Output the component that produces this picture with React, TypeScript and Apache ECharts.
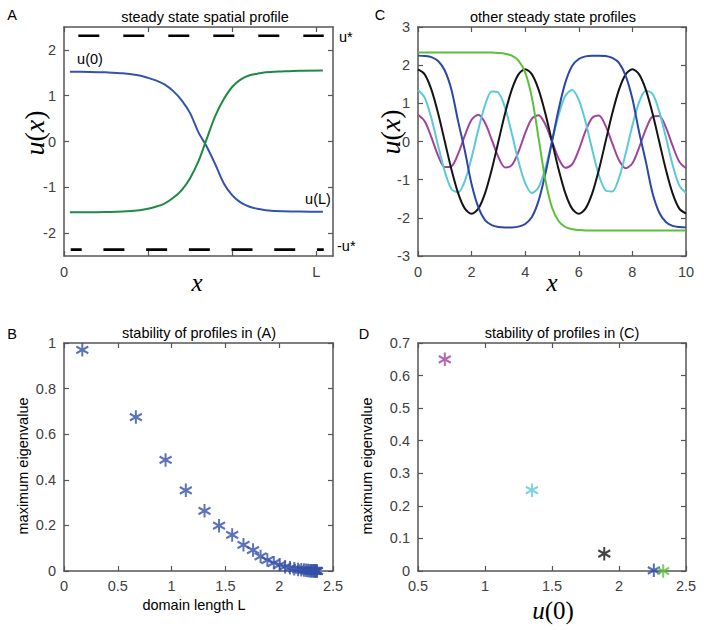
import React, { useEffect, useRef } from "react";
import * as echarts from "echarts";

// ---------- Panel A: steady state spatial profile ----------
const profileX = [0.07, 0.3, 0.5, 0.7, 0.9, 1.0, 1.1, 1.2, 1.3, 1.4, 1.5, 1.6, 1.7, 1.8, 1.9, 2.0, 2.1, 2.2, 2.3, 2.4, 2.6, 2.8, 3.08];
const profileFromU0 = [1.525, 1.52, 1.51, 1.49, 1.44, 1.39, 1.33, 1.24, 1.1, 0.9, 0.62, 0.2, -0.12, -0.5, -0.91, -1.17, -1.33, -1.42, -1.47, -1.5, -1.525, -1.53, -1.535];
const profileFromUL = [-1.545, -1.545, -1.54, -1.53, -1.5, -1.47, -1.42, -1.35, -1.23, -1.06, -0.8, -0.43, 0.07, 0.56, 0.92, 1.19, 1.35, 1.44, 1.48, 1.51, 1.53, 1.545, 1.55];
const uStarTopX = [0.17, 3.09];
const uStarBottomX = [0.08, 3.09];
const uStarPlus = 2.31;
const uStarMinus = -2.36;
const aTicksX = [0, 1, 2, 3];
const aLabelsX = [0, 3];
const aTicksY = [-2, -1, 0, 1, 2];

// ---------- Panel C: other steady state profiles ----------
const otherX = [0, 0.25, 0.5, 0.75, 1, 1.25, 1.5, 1.75, 2, 2.25, 2.5, 2.75, 3, 3.25, 3.5, 3.75, 4, 4.25, 4.5, 4.75, 5, 5.25, 5.5, 5.75, 6, 6.25, 6.5, 6.75, 7, 7.25, 7.5, 7.75, 8, 8.25, 8.5, 8.75, 9, 9.25, 9.5, 9.75, 10];
const otherGreen = [2.33, 2.33, 2.33, 2.33, 2.33, 2.33, 2.33, 2.33, 2.33, 2.33, 2.33, 2.33, 2.32, 2.3, 2.25, 2.12, 1.81, 1.15, 0.09, -1.0, -1.73, -2.09, -2.24, -2.3, -2.32, -2.33, -2.33, -2.33, -2.33, -2.33, -2.33, -2.33, -2.33, -2.33, -2.33, -2.33, -2.33, -2.33, -2.33, -2.33, -2.33];
const otherBlue = [2.25, 2.24, 2.21, 2.11, 1.86, 1.35, 0.52, -0.25, -1.12, -1.72, -2.06, -2.19, -2.24, -2.25, -2.25, -2.23, -2.16, -1.98, -1.55, -0.85, 0, 0.85, 1.55, 1.98, 2.16, 2.23, 2.25, 2.25, 2.24, 2.19, 2.06, 1.72, 1.12, 0.25, -0.52, -1.35, -1.86, -2.11, -2.21, -2.24, -2.25];
const otherBlack = [1.89, 1.76, 1.36, 0.74, 0, -0.74, -1.36, -1.76, -1.89, -1.76, -1.36, -0.74, 0, 0.74, 1.36, 1.76, 1.89, 1.76, 1.36, 0.74, 0, -0.74, -1.36, -1.76, -1.89, -1.76, -1.36, -0.74, 0, 0.74, 1.36, 1.76, 1.89, 1.76, 1.36, 0.74, 0, -0.74, -1.36, -1.76, -1.89];
const otherCyan = [1.35, 1.15, 0.61, -0.11, -0.79, -1.25, -1.33, -1.03, -0.42, 0.31, 0.95, 1.31, 1.28, 0.88, 0.21, -0.52, -1.09, -1.35, -1.2, -0.7, 0, 0.7, 1.2, 1.35, 1.09, 0.52, -0.21, -0.88, -1.28, -1.31, -0.95, -0.31, 0.42, 1.03, 1.33, 1.25, 0.79, 0.11, -0.61, -1.15, -1.35];
const otherPurple = [0.7, 0.53, 0.11, -0.37, -0.67, -0.65, -0.32, 0.16, 0.57, 0.7, 0.49, 0.05, -0.41, -0.68, -0.62, -0.27, 0.22, 0.6, 0.69, 0.45, 0, -0.45, -0.69, -0.6, -0.22, 0.27, 0.62, 0.68, 0.41, -0.05, -0.49, -0.7, -0.57, -0.16, 0.32, 0.65, 0.67, 0.37, -0.11, -0.53, -0.7];
const cTicksX = [0, 2, 4, 6, 8, 10];
const cTicksY = [-3, -2, -1, 0, 1, 2, 3];

// ---------- Panel B: stability of profiles in (A) ----------
const domainLength = [0.17, 0.668, 0.944, 1.132, 1.306, 1.441, 1.563, 1.668, 1.757, 1.827, 1.89, 1.95, 2.005, 2.055, 2.1, 2.14, 2.175, 2.205, 2.23, 2.25, 2.268, 2.283, 2.296, 2.307, 2.317, 2.326, 2.334, 2.341, 2.347, 2.352];
const maxEigA = [0.97, 0.675, 0.487, 0.354, 0.264, 0.199, 0.158, 0.115, 0.092, 0.064, 0.048, 0.036, 0.027, 0.019, 0.014, 0.01, 0.007, 0.005, 0.004, 0.003, 0.002, 0.0015, 0.001, 0.0008, 0.0006, 0.0004, 0.0003, 0.0002, 0.0001, 0];
const bTicksX = [0, 0.5, 1, 1.5, 2, 2.5];
const bTicksY = [0, 0.2, 0.4, 0.6, 0.8, 1];

// ---------- Panel D: stability of profiles in (C) ----------
const u0C = [0.7, 1.35, 1.89, 2.26, 2.33];
const maxEigC = [0.65, 0.248, 0.053, 0.002, 0.0];
const dTicksX = [0.5, 1, 1.5, 2, 2.5];
const dTicksY = [0, 0.1, 0.2, 0.3, 0.4, 0.5, 0.6, 0.7];

const colorA_u0 = "#3452ae";
const colorA_uL = "#1e8a44";
const colorsC = ["#a0449e", "#5cc8d8", "#141414", "#2c47a6", "#5cbf3a"];
const colorB = "#3350a8";

const SANS = "'Liberation Sans', Arial, Helvetica, sans-serif";
const SERIF = "'Liberation Serif', 'Times New Roman', serif";
const AXC = "#555555";
const LBL = "#404040";

const STAR = "path://M10,0L10,20M1.34,5L18.66,15M1.34,15L18.66,5";

function mkAxis(gridIndex: number, position: string, min: number, max: number, ticks: number[], labels: number[] | null, fmt?: (v: number) => string, margin = 8) {
  return {
    type: "value",
    gridIndex,
    position,
    min,
    max,
    axisLine: { show: true, onZero: false, lineStyle: { color: AXC, width: 1.5 } },
    axisTick: { show: true, inside: true, length: 5, customValues: ticks, lineStyle: { color: AXC, width: 1.2 } },
    axisLabel: labels
      ? { show: true, customValues: labels, formatter: fmt, color: LBL, fontSize: 14.5, fontFamily: SANS, margin }
      : { show: false },
    splitLine: { show: false },
  };
}

const zip = (xs: number[], ys: number[]) => xs.map((x, i) => [x, ys[i]]);

function txt(text: string, x: number, y: number, opts: any = {}) {
  return {
    type: "text",
    x,
    y,
    rotation: opts.rotation || 0,
    z: 100,
    style: {
      text,
      fill: opts.fill || "#000",
      font: opts.font || `14.5px ${SANS}`,
      align: opts.align || "center",
      verticalAlign: "middle",
      rich: opts.rich,
    },
  };
}

const mathRich = (size: number) => ({
  i: { fontFamily: SERIF, fontStyle: "italic", fontSize: size, fill: "#000" },
  n: { fontFamily: SERIF, fontSize: size, fill: "#000" },
});

export default function App() {
  const ref = useRef<HTMLDivElement>(null);
  useEffect(() => {
    if (!ref.current) return;
    const chart = echarts.init(ref.current, undefined, { renderer: "svg" });
    const lineBase = { type: "line", showSymbol: false, smooth: 0.3, lineStyle: { width: 2 }, silent: true };
    const starStyle = (c: string) => ({ color: "none", borderColor: c, borderWidth: 2.1 });
    const option: any = {
      animation: false,
      backgroundColor: "#ffffff",
      textStyle: { fontFamily: SANS },
      grid: [
        { left: 64, top: 27, width: 269, height: 229 },
        { left: 418, top: 27, width: 268, height: 229 },
        { left: 64, top: 343, width: 269, height: 228 },
        { left: 418, top: 343, width: 268, height: 228 },
      ],
      xAxis: [
        mkAxis(0, "bottom", 0, 3.2, aTicksX, aLabelsX, (v) => (v === 0 ? "0" : "L")),
        mkAxis(0, "top", 0, 3.2, aTicksX, null),
        mkAxis(1, "bottom", 0, 10, cTicksX, cTicksX),
        mkAxis(1, "top", 0, 10, cTicksX, null),
        mkAxis(2, "bottom", 0, 2.5, bTicksX, bTicksX, undefined, 7),
        mkAxis(2, "top", 0, 2.5, bTicksX, null),
        mkAxis(3, "bottom", 0.5, 2.5, dTicksX, dTicksX, undefined, 7),
        mkAxis(3, "top", 0.5, 2.5, dTicksX, null),
      ],
      yAxis: [
        mkAxis(0, "left", -2.5, 2.5, aTicksY, aTicksY),
        mkAxis(0, "right", -2.5, 2.5, aTicksY, null),
        mkAxis(1, "left", -3, 3, cTicksY, cTicksY),
        mkAxis(1, "right", -3, 3, cTicksY, null),
        mkAxis(2, "left", 0, 1, bTicksY, bTicksY),
        mkAxis(2, "right", 0, 1, bTicksY, null),
        mkAxis(3, "left", 0, 0.7, dTicksY, dTicksY),
        mkAxis(3, "right", 0, 0.7, dTicksY, null),
      ],
      series: [
        // Panel A
        { ...lineBase, xAxisIndex: 0, yAxisIndex: 0, data: zip(profileX, profileFromU0), lineStyle: { width: 2, color: colorA_u0 } },
        { ...lineBase, xAxisIndex: 0, yAxisIndex: 0, data: zip(profileX, profileFromUL), lineStyle: { width: 2, color: colorA_uL } },
        {
          type: "line", xAxisIndex: 0, yAxisIndex: 0, showSymbol: false, silent: true,
          data: uStarTopX.map((x) => [x, uStarPlus]),
          lineStyle: { color: "#000", width: 2.6, type: [21, 24] },
        },
        {
          type: "line", xAxisIndex: 0, yAxisIndex: 0, showSymbol: false, silent: true,
          data: uStarBottomX.map((x) => [x, uStarMinus]),
          lineStyle: { color: "#000", width: 2.6, type: [21, 21.7], dashOffset: 10 },
        },
        // Panel C
        { ...lineBase, xAxisIndex: 2, yAxisIndex: 2, data: zip(otherX, otherPurple), lineStyle: { width: 2, color: colorsC[0] } },
        { ...lineBase, xAxisIndex: 2, yAxisIndex: 2, data: zip(otherX, otherCyan), lineStyle: { width: 2, color: colorsC[1] } },
        { ...lineBase, xAxisIndex: 2, yAxisIndex: 2, data: zip(otherX, otherBlack), lineStyle: { width: 2, color: colorsC[2] } },
        { ...lineBase, xAxisIndex: 2, yAxisIndex: 2, data: zip(otherX, otherBlue), lineStyle: { width: 2, color: colorsC[3] } },
        { ...lineBase, xAxisIndex: 2, yAxisIndex: 2, data: zip(otherX, otherGreen), lineStyle: { width: 2, color: colorsC[4] } },
        // Panel B
        {
          type: "scatter", xAxisIndex: 4, yAxisIndex: 4, clip: false, silent: true,
          symbol: STAR, symbolSize: [12, 13.5],
          itemStyle: starStyle(colorB),
          data: zip(domainLength, maxEigA),
        },
        // Panel D
        {
          type: "scatter", xAxisIndex: 6, yAxisIndex: 6, clip: false, silent: true,
          symbol: STAR, symbolSize: [12, 13.5],
          data: u0C.map((x, i) => ({
            value: [x, maxEigC[i]],
            itemStyle: starStyle(colorsC[i]),
          })),
        },
      ],
      graphic: [
        // panel letters
        txt("A", 12, 15),
        txt("C", 380, 15),
        txt("B", 12, 334),
        txt("D", 364, 334),
        // titles
        txt("steady state spatial profile", 205, 17),
        txt("other steady state profiles", 553, 17),
        txt("stability of profiles in (A)", 199, 333),
        txt("stability of profiles in (C)", 562, 333),
        // panel A annotations
        txt("u(0)", 90, 59),
        txt("u(L)", 318, 199),
        txt("u*", 339, 37, { align: "left" }),
        txt("-u*", 337, 246, { align: "left" }),
        // axis names
        txt("{i|u}{n|(}{i|x}{n|)}", 34, 133, { rotation: Math.PI / 2, rich: mathRich(28) }),
        txt("{i|x}", 197, 282, { rich: mathRich(25) }),
        txt("{i|u}{n|(}{i|x}{n|)}", 390, 132, { rotation: Math.PI / 2, rich: mathRich(28) }),
        txt("{i|x}", 552, 282, { rich: mathRich(25) }),
        txt("maximum eigenvalue", 23, 466, { rotation: Math.PI / 2 }),
        txt("domain length L", 194, 605),
        txt("maximum eigenvalue", 367, 466, { rotation: Math.PI / 2 }),
        txt("{i|u}{n|(0)}", 553, 610, { rich: mathRich(25) }),
      ],
    };
    chart.setOption(option);
    return () => chart.dispose();
  }, []);
  return (
    <div
      ref={ref}
      style={{ position: "fixed", left: 0, top: 0, width: 704, height: 630, background: "#fff" }}
    />
  );
}
